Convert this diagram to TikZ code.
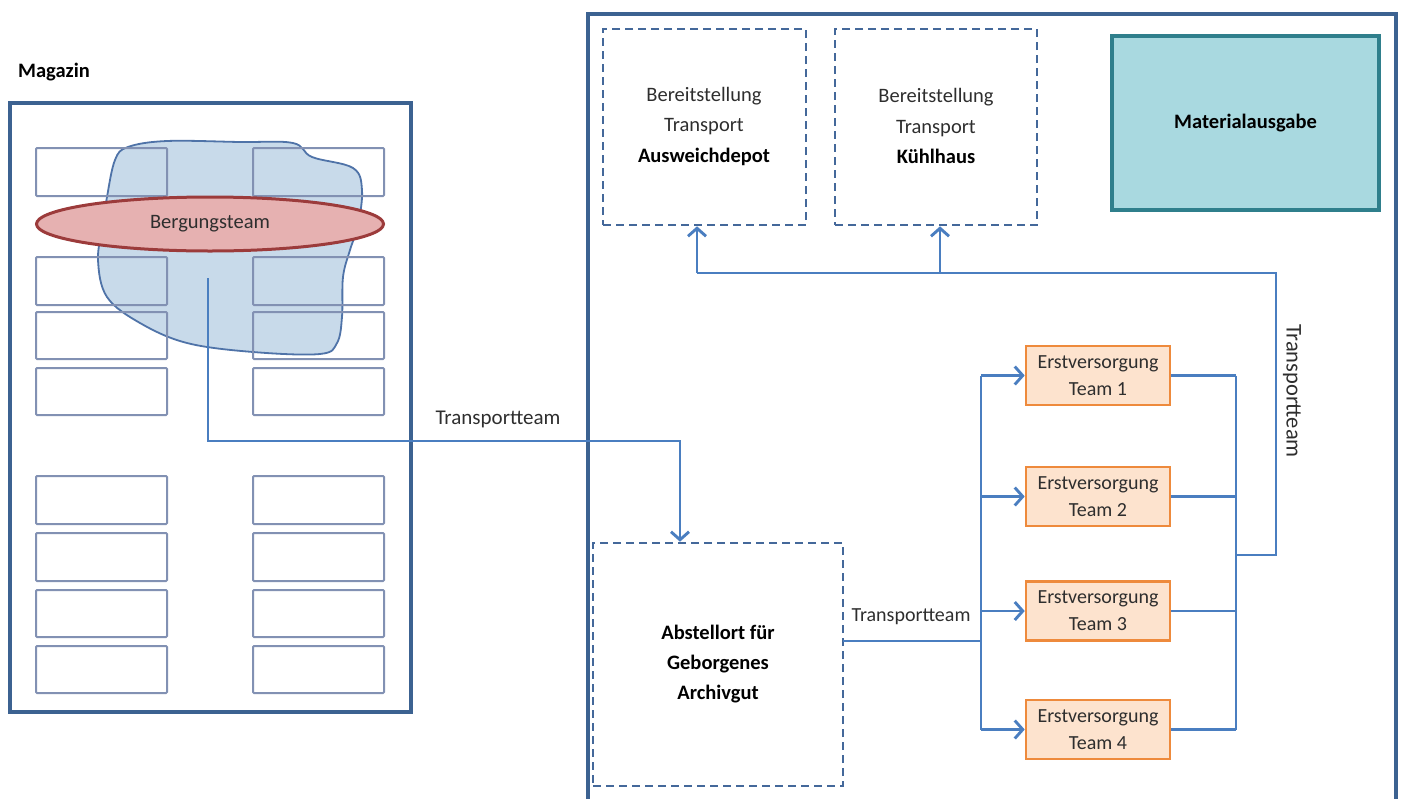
\documentclass[tikz,border=0pt]{standalone}
\usepackage{fontspec}
\setmainfont{Carlito}
\usetikzlibrary{arrows.meta,shapes.geometric}
\definecolor{framec}{HTML}{3C6291}
\definecolor{shelfc}{HTML}{8291B3}
\definecolor{dashc}{HTML}{44689A}
\definecolor{linec}{HTML}{4A7EC0}
\definecolor{blobfill}{HTML}{C8DAEA}
\definecolor{blobline}{HTML}{4F73A8}
\definecolor{ellfill}{HTML}{E6B1B1}
\definecolor{elldraw}{HTML}{9C3B3B}
\definecolor{teamdraw}{HTML}{EE8A3C}
\definecolor{teamfill}{HTML}{FDE3CE}
\definecolor{matfill}{HTML}{A9D9E0}
\definecolor{matdraw}{HTML}{2F7F8C}
\definecolor{txtc}{HTML}{2E2E2E}
\begin{document}
\begin{tikzpicture}[x=1pt,y=-1pt,
  frame/.style={draw=framec,line width=3.8pt},
  shelf/.style={draw=shelfc,line width=2pt,rounded corners=1pt},
  dbox/.style={draw=dashc,line width=2.6pt,dash pattern=on 8pt off 5pt,align=center,inner sep=0pt,text=txtc},
  conn/.style={draw=linec,line width=2.9pt},
  arr/.style={conn,-{Straight Barb[length=8pt,width=18pt,line width=2.9pt]}},
  team/.style={draw=teamdraw,fill=teamfill,line width=2.6pt,minimum width=144pt,minimum height=59pt,inner sep=0pt,align=center,text=txtc,font=\fontsize{20}{27}\selectfont},
  lbl/.style={text=txtc,font=\fontsize{21}{24}\selectfont,inner sep=0pt}
]
\useasboundingbox (0,0) rectangle (1402,798);

% Magazin
\node[anchor=west,font=\bfseries\fontsize{20.5}{24}\selectfont,inner sep=0pt] (maglbl) at (18,72) {Magazin};
\draw[frame] (10,103) rectangle (411,712);

% blob
\draw[draw=blobline,fill=blobfill,line width=1.8pt] plot[smooth cycle,tension=0.6] coordinates {
 (128,147) (167,141) (240,142) (293,143) (312,157) (353,168) (362,190) (358,225) (350,250) (343,277)
 (342,317) (337,343) (320,354) (253,352) (187,343) (140,323) (107,297) (98,260) (103,225) (107,197) (115,160)};

% shelves
\foreach \ya/\yb in {148/196,257/305,312/359,368/415,476/524,533/581,590/637,646/693}{
  \draw[shelf] (36,\ya) rectangle (167,\yb);
  \draw[shelf] (253,\ya) rectangle (384,\yb);
}

\node[ellipse,draw=elldraw,fill=ellfill,line width=3pt,minimum width=347pt,minimum height=54pt,inner sep=0pt,
  text=txtc,font=\fontsize{20.5}{24}\selectfont] (berg) at (210,224) {Bergungsteam};

% right frame
\draw[frame] (588,800) -- (588,14) -- (1396,14) -- (1396,800);

% top dashed boxes
\node[dbox,minimum width=203pt,minimum height=196pt] (aus) at (704.5,127) {};
\node[lbl,align=center,font=\fontsize{20.5}{30.5}\selectfont] (austxt) at (704,126) {Bereitstellung\\Transport\\\textbf{\color{black}Ausweichdepot}};
\node[dbox,minimum width=202pt,minimum height=196pt] (kuehl) at (936,127) {};
\node[lbl,align=center,font=\fontsize{20.5}{30.5}\selectfont] (kuehltxt) at (936,126) {Bereitstellung\\Transport\\\textbf{\color{black}Kühlhaus}};

% Materialausgabe
\node[draw=matdraw,fill=matfill,line width=4pt,minimum width=267pt,minimum height=174pt,inner sep=0pt,
  font=\bfseries\fontsize{20.5}{24}\selectfont] (mat) at (1245.5,123) {Materialausgabe};

% Abstellort
\node[dbox,minimum width=250pt,minimum height=243pt,text=black,font=\bfseries\fontsize{20.5}{30}\selectfont] (abst) at (718,664.5) {Abstellort für\\Geborgenes\\Archivgut};

% Teams
\node[team] (e1) at (1098,375.5) {Erstversorgung\\Team 1};
\node[team] (e2) at (1098,496.5) {Erstversorgung\\Team 2};
\node[team] (e3) at (1098,611) {Erstversorgung\\Team 3};
\node[team] (e4) at (1098,729.5) {Erstversorgung\\Team 4};

% connector Bergungsteam -> Abstellort
\coordinate (bstart) at (208,278);
\coordinate (bbend) at (680,441);
\draw[arr] (bstart) |- (bbend) -- (bbend |- abst.north);
\node[lbl,anchor=south] (tt1) at (498,428) {Transportteam};

% Abstellort -> teams
\coordinate (af) at (843,641);
\coordinate (lb) at (981,641);
\draw[conn] (af) -- (lb);
\node[lbl,anchor=south,font=\fontsize{20}{23}\selectfont] (tt2) at (911,625) {Transportteam};
\draw[conn] (lb |- e1.west) -- (lb |- e4.west);
\foreach \e in {e1,e2,e3,e4}{\draw[arr] (lb |- \e.west) -- (\e.west);}

% teams -> right bus
\coordinate (rb) at (1236,555);
\foreach \e in {e1,e2,e3,e4}{\draw[conn] (\e.east) -- (rb |- \e.east);}
\draw[conn] (rb |- e1.east) -- (rb |- e4.east);

% right bus -> top boxes
\coordinate (rc) at (1276,555);
\coordinate (tc) at (1276,273);
\coordinate (ta) at (697,273);
\coordinate (tk) at (940,273);
\draw[conn] (rb) -- (rc) -- (tc) -- (ta);
\draw[arr] (ta) -- (ta |- aus.south);
\draw[arr] (tk) -- (tk |- kuehl.south);
\node[lbl,rotate=-90,font=\fontsize{22.5}{24}\selectfont] (tt3) at (1292,391) {Transportteam};
\end{tikzpicture}
\end{document}
